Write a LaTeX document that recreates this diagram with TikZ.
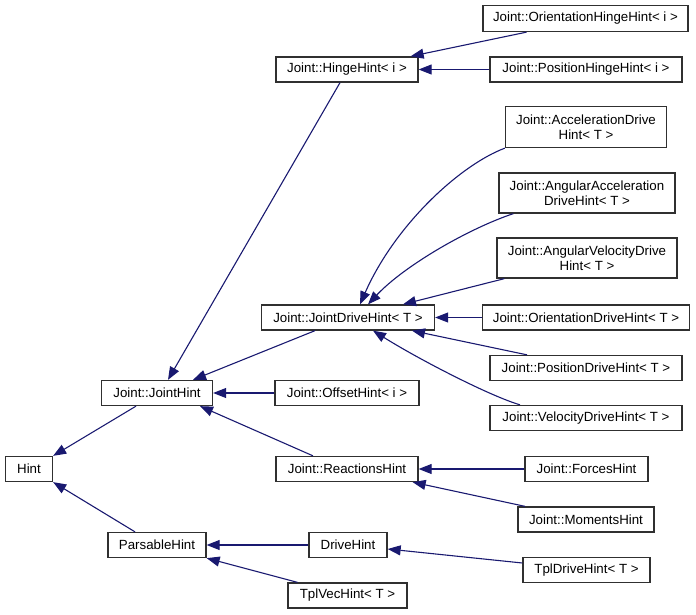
\documentclass[tikz,border=0pt]{standalone}
\usepackage{fontspec}
\setmainfont{Liberation Sans}
\usetikzlibrary{arrows.meta}
\definecolor{edgeblue}{RGB}{25,25,112}
\definecolor{boxgray}{RGB}{48,48,48}
\begin{document}
\begin{tikzpicture}[x=1pt,y=-1pt,
  cls/.style={draw=boxgray, line width=1.3pt, rectangle, inner sep=0pt, minimum height=25pt, font=\fontsize{13.3}{15}\selectfont, align=center},
  inh/.style={draw=edgeblue, line width=1.1pt, -{Triangle[length=13pt,width=10pt]}}
]
\useasboundingbox (0,0) rectangle (696,615);
\node[cls, minimum width=47pt] (hint) at (29,469) {Hint};
\node[cls, minimum width=111pt] (jh) at (157,393) {Joint::JointHint};
\node[cls, minimum width=98pt] (ph) at (157,545) {ParsableHint};
\node[cls, minimum width=142pt] (hh) at (347,69.5) {Joint::HingeHint< i >};
\node[cls, minimum width=205pt, minimum height=26pt] (ohh) at (585.5,18.5) {Joint::OrientationHingeHint< i >};
\node[cls, minimum width=192pt] (phh) at (586,69.5) {Joint::PositionHingeHint< i >};
\node[cls, minimum width=161pt, minimum height=41pt] (adh) at (586,127) {Joint::AccelerationDrive\\Hint< T >};
\node[cls, minimum width=176pt, minimum height=40pt] (aadh) at (587,193) {Joint::AngularAcceleration\\DriveHint< T >};
\node[cls, minimum width=180pt, minimum height=40pt] (avdh) at (587,258) {Joint::AngularVelocityDrive\\Hint< T >};
\node[cls, minimum width=173pt] (jdh) at (348,317.5) {Joint::JointDriveHint< T >};
\node[cls, minimum width=207pt] (odh) at (586,317.5) {Joint::OrientationDriveHint< T >};
\node[cls, minimum width=192pt] (pdh) at (586,368) {Joint::PositionDriveHint< T >};
\node[cls, minimum width=192pt] (vdh) at (586,418) {Joint::VelocityDriveHint< T >};
\node[cls, minimum width=144pt] (oh) at (347,393) {Joint::OffsetHint< i >};
\node[cls, minimum width=142pt] (rh) at (347,469) {Joint::ReactionsHint};
\node[cls, minimum width=123pt] (fh) at (586.5,469) {Joint::ForcesHint};
\node[cls, minimum width=136pt] (mh) at (586,519.5) {Joint::MomentsHint};
\node[cls, minimum width=78pt] (dh) at (348,545) {DriveHint};
\node[cls, minimum width=127pt] (tdh) at (586.5,570) {TplDriveHint< T >};
\node[cls, minimum width=119pt] (tvh) at (347.5,595.5) {TplVecHint< T >};

\draw[inh] ([xshift=-21pt]jh.south) -- (hint.north east);
\draw[inh] ([xshift=-22pt]ph.north) -- (hint.south east);
\draw[inh] ([xshift=-7pt]hh.south) -- ([xshift=11pt]jh.north);
\draw[inh] ([xshift=-33pt]jdh.south) -- ([xshift=36pt]jh.north);
\draw[inh] (oh.west) -- (jh.east);
\draw[inh] ([xshift=-34pt]rh.north) -- ([xshift=43pt]jh.south);
\draw[inh] ([xshift=-59pt]ohh.south) -- ([xshift=-8pt]hh.north east);
\draw[inh] (phh.west) -- (hh.east);
\draw[inh] (adh.south west) .. controls (460,165) and (395,225) .. ([xshift=12pt]jdh.north);
\draw[inh] ([xshift=15pt]aadh.south west) .. controls (470,228) and (405,265) .. ([xshift=20pt]jdh.north);
\draw[inh] ([xshift=8pt]avdh.south west) -- ([xshift=55pt]jdh.north);
\draw[inh] (odh.west) -- (jdh.east);
\draw[inh] ([xshift=-59pt]pdh.north) -- ([xshift=64pt]jdh.south);
\draw[inh] ([xshift=-66pt]vdh.north) .. controls (490,396) and (420,360) .. ([xshift=25pt]jdh.south);
\draw[inh] (fh.west) -- (rh.east);
\draw[inh] ([xshift=-61pt]mh.north) -- ([xshift=-6pt]rh.south east);
\draw[inh] (dh.west) -- (ph.east);
\draw[inh] ([xshift=-50pt]tvh.north) -- (ph.south east);
\draw[inh] ([yshift=7pt]tdh.west) -- ([yshift=-4pt]dh.east);
\end{tikzpicture}
\end{document}
